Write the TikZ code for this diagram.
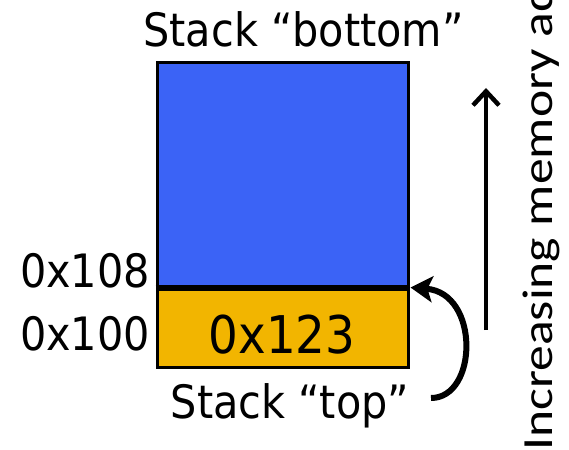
\documentclass[tikz,border=0pt]{standalone}
\usepackage{fontspec}
\setmainfont{DejaVu Sans Condensed}
\newfontfamily\sidefont{Carlito}
\usetikzlibrary{arrows.meta}
\definecolor{stackblue}{RGB}{59,99,246}
\definecolor{stackgold}{RGB}{242,181,0}
\tikzset{
  label/.style={inner sep=0pt, font=\fontsize{46}{50}\selectfont},
  cell/.style={draw=black, line width=3pt, inner sep=0pt},
}
\begin{document}
\begin{tikzpicture}[x=1pt, y=-1pt]
  \useasboundingbox (0,0) rectangle (569,449);
  \clip (0,0) rectangle (569,449);

  % stack memory cells
  \node[cell, fill=stackblue, minimum width=251pt, minimum height=226pt] (body) at (282.5,176) {};
  \node[cell, fill=stackgold, minimum width=251pt, minimum height=78pt] (topcell) at (282.5,328) {};
  \draw[line width=5pt] (topcell.north west) -- (topcell.north east);
  \node[label, font=\fontsize{52}{56}\selectfont, anchor=base] (val) at (282,353) {0x123};

  % captions
  \node[label, anchor=base] (bottomlbl) at (303.5,47) {Stack “bottom”};
  \node[label, anchor=base] (toplbl) at (290,418) {Stack “top”};
  \node[label, anchor=base east] (a108) at (150,287) {0x108};
  \node[label, anchor=base east] (a100) at (150,350) {0x100};

  % stack pointer arrow
  \coordinate (sp0) at (431,398);
  \draw[line width=6pt, -{Stealth[length=22pt, width=26pt, inset=5pt]}]
    (sp0) .. controls (478,398) and (480,293) .. ([xshift=1pt]topcell.north east);

  % address direction
  \coordinate (up0) at (486,330);
  \coordinate (up1) at (486,88);
  \draw[line width=4.5pt, -{Straight Barb[length=14pt, width=26pt, line width=4.5pt]}] (up0) -- (up1);
  \node[inner sep=0pt, anchor=base west, rotate=90, font=\sidefont\fontsize{43}{46}\selectfont] (dir) at (552,451) {\scalebox{1.2}[1]{Increasing memory addresses}};
\end{tikzpicture}
\end{document}
